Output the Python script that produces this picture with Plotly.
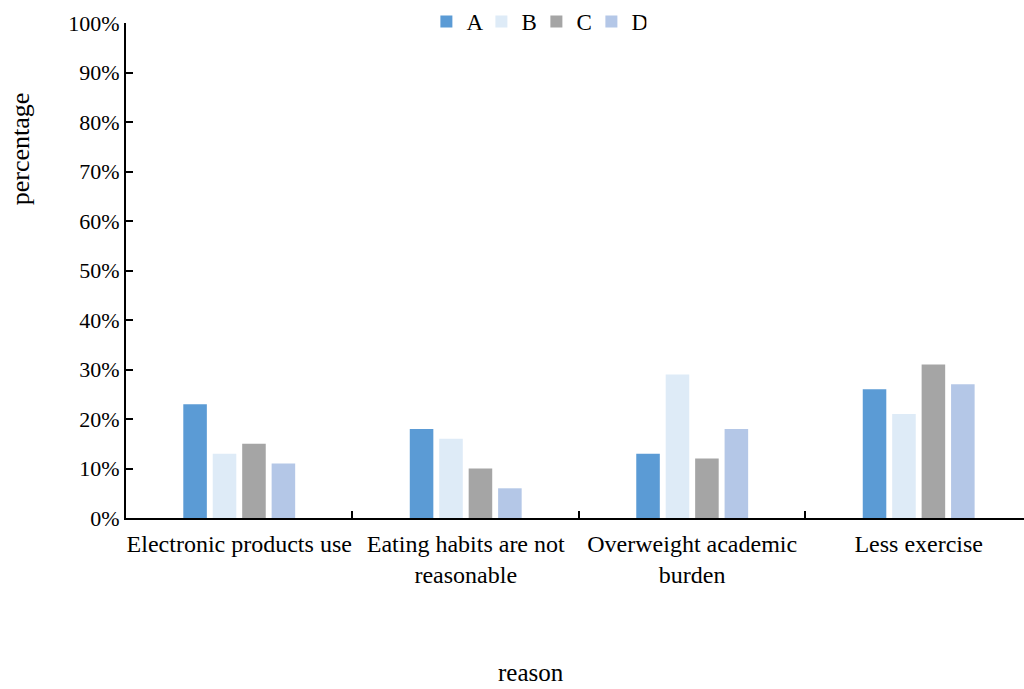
import plotly.graph_objects as go

# Categories and series values (fractions of respondents)
reasons = [
    "Electronic products use",
    "Eating habits are not<br>reasonable",
    "Overweight academic<br>burden",
    "Less exercise",
]
series_names = ["A", "B", "C", "D"]
values_a = [0.23, 0.18, 0.13, 0.26]
values_b = [0.13, 0.16, 0.29, 0.21]
values_c = [0.15, 0.10, 0.12, 0.31]
values_d = [0.11, 0.06, 0.18, 0.27]
series_colors = ["#5B9BD5", "#DEEBF7", "#A5A5A5", "#B4C7E7"]

FONT = "Times New Roman, Liberation Serif, serif"

fig = go.Figure()
for name, vals, col in zip(series_names, [values_a, values_b, values_c, values_d], series_colors):
    fig.add_trace(go.Bar(
        name=name,
        x=reasons,
        y=vals,
        marker=dict(color=col, line=dict(width=0)),
    ))

fig.update_layout(
    width=1024,
    height=689,
    margin=dict(l=126, r=0, t=20, b=171),
    paper_bgcolor="white",
    plot_bgcolor="white",
    barmode="group",
    bargap=0.48,
    bargroupgap=0.2,
    font=dict(family=FONT, size=22, color="black"),
    showlegend=True,
    legend=dict(
        orientation="h",
        x=0.457,
        xanchor="center",
        y=1.004,
        yanchor="middle",
        font=dict(family=FONT, size=23, color="black"),
        itemwidth=30,
        entrywidth=10,
        bgcolor="rgba(0,0,0,0)",
    ),
    xaxis=dict(
        type="category",
        range=[-0.5, 3.465],
        showline=True,
        linecolor="black",
        linewidth=2,
        ticks="inside",
        tickson="boundaries",
        ticklen=7,
        tickwidth=2,
        tickcolor="black",
        tickangle=0,
        ticklabelstandoff=3,
        showgrid=False,
        zeroline=False,
        tickfont=dict(family=FONT, size=24, color="black"),
    ),
    yaxis=dict(
        range=[0, 1.0],
        dtick=0.1,
        tickformat=".0%",
        showline=True,
        linecolor="black",
        linewidth=2,
        ticks="inside",
        ticklen=7,
        tickwidth=2,
        tickcolor="black",
        showgrid=False,
        zeroline=False,
        tickfont=dict(family=FONT, size=22, color="black"),
    ),
    annotations=[
        dict(text="percentage", xref="paper", yref="paper",
             x=-0.118, y=0.745, xanchor="center", yanchor="middle",
             textangle=-90, showarrow=False,
             font=dict(family=FONT, size=26, color="black")),
        dict(text="reason", xref="paper", yref="paper",
             x=0.451, y=-0.312, xanchor="center", yanchor="middle",
             showarrow=False,
             font=dict(family=FONT, size=25, color="black")),
    ],
)

fig.write_html("out.html")
